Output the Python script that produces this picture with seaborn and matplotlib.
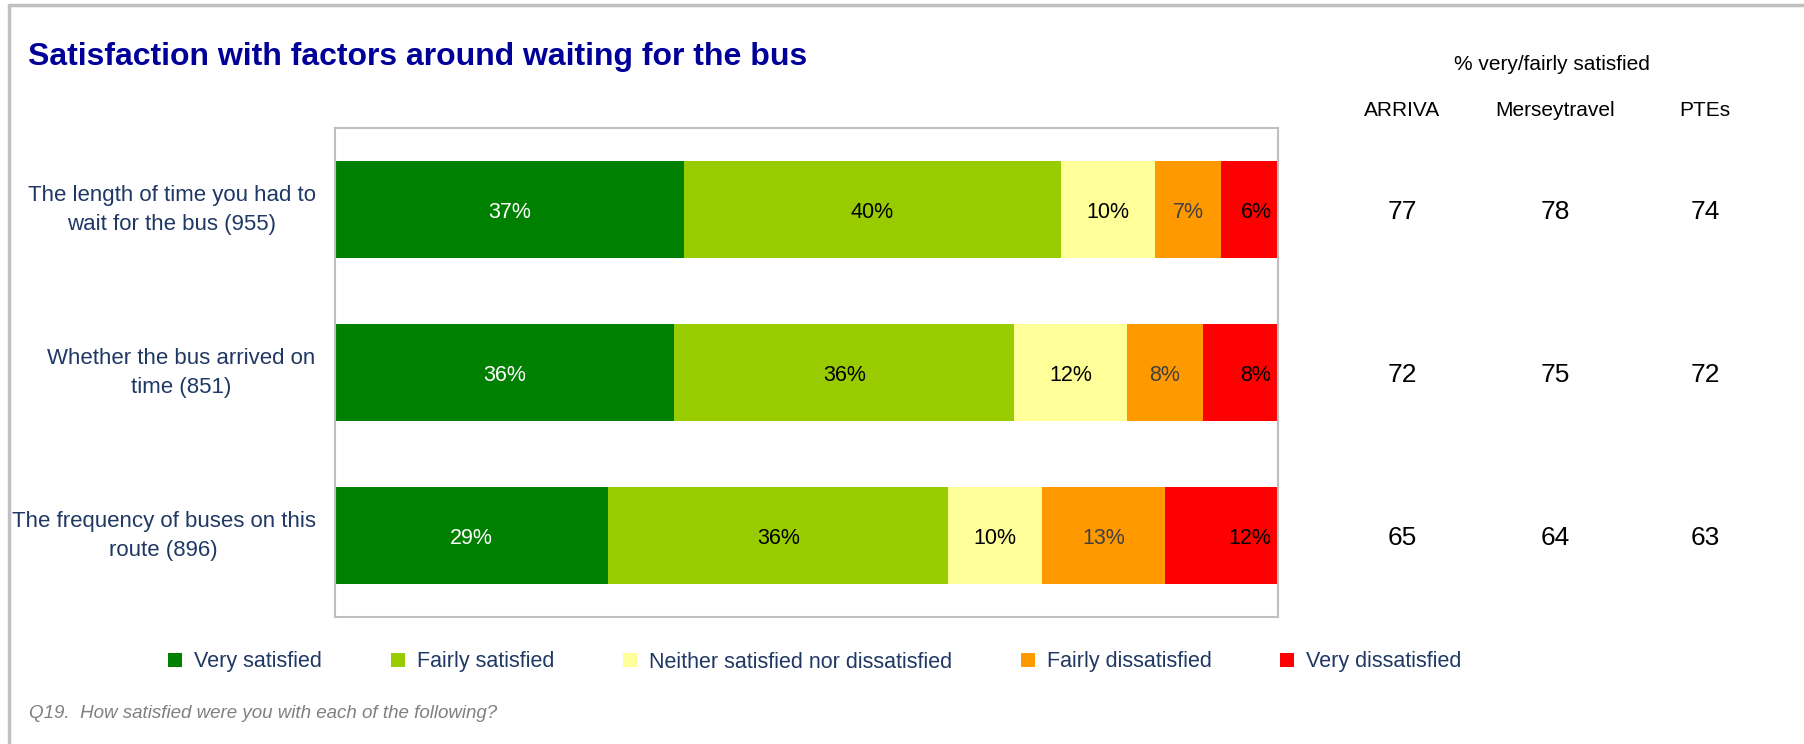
import numpy as np
import pandas as pd
import matplotlib
matplotlib.use('Agg')
import matplotlib.pyplot as plt
import matplotlib.transforms as mtransforms
from matplotlib.patches import Patch
from matplotlib.lines import Line2D
import seaborn as sns

# Data
questions = ['The length of time you had to\nwait for the bus (955)',
             'Whether the bus arrived on\ntime (851)',
             'The frequency of buses on this\nroute (896)']
levels = ['Very satisfied', 'Fairly satisfied', 'Neither satisfied nor dissatisfied',
          'Fairly dissatisfied', 'Very dissatisfied']
very_satisfied = [37, 36, 29]
fairly_satisfied = [40, 36, 36]
neither = [10, 12, 10]
fairly_dissatisfied = [7, 8, 13]
very_dissatisfied = [6, 8, 12]

operators = ['ARRIVA', 'Merseytravel', 'PTEs']
arriva = [77, 72, 65]
merseytravel = [78, 75, 64]
ptes = [74, 72, 63]

colors = ['#008000', '#99CC00', '#FFFF99', '#FF9900', '#FF0000']
label_colors = ['white', 'black', 'black', '#404040', 'black']
text_blue = '#1F3864'

df = pd.DataFrame({'question': questions,
                   levels[0]: very_satisfied,
                   levels[1]: fairly_satisfied,
                   levels[2]: neither,
                   levels[3]: fairly_dissatisfied,
                   levels[4]: very_dissatisfied})
cum = df[levels].cumsum(axis=1)
cum['question'] = df['question']

sns.set_theme(style='white')
plt.rcParams['font.family'] = ['Liberation Sans', 'DejaVu Sans']

W, H = 1804, 744
fig = plt.figure(figsize=(W / 100, H / 100), dpi=100)
ax = fig.add_axes([335 / W, 1 - 617 / H, (1278 - 335) / W, (617 - 128) / H])

# stacked bars: draw cumulative totals from the back forward
for i in reversed(range(len(levels))):
    sns.barplot(data=cum, x=levels[i], y='question', orient='h', color=colors[i],
                saturation=1, width=0.6, linewidth=0, ax=ax, order=questions)

# segment labels
for j in range(len(questions)):
    for i, lev in enumerate(levels):
        val = df.loc[j, lev]
        end = cum.loc[j, lev]
        if i == len(levels) - 1:
            ax.text(end - 0.7, j, f'{val}%', ha='right', va='center_baseline',
                    fontsize=15.5, color=label_colors[i])
        else:
            ax.text(end - val / 2, j, f'{val}%', ha='center', va='center_baseline',
                    fontsize=15.5, color=label_colors[i])

ax.set_xlim(0, 100)
ax.set_ylim(2.5, -0.5)
ax.set_xlabel('')
ax.set_ylabel('')
ax.set_xticks([])
ax.set_yticks(range(len(questions)))
ax.set_yticklabels(questions, fontsize=16, color=text_blue, multialignment='center',
                   linespacing=1.5, va='center')
ax.tick_params(axis='y', length=0, pad=14)
for s in ax.spines.values():
    s.set_visible(True)
    s.set_color('#BFBFBF')
    s.set_linewidth(1.5)

# right-hand table of % very/fairly satisfied
trans = mtransforms.blended_transform_factory(fig.transFigure, ax.transData)
col_x = [1402 / W, 1555 / W, 1705 / W]
for name, vals, x in zip(operators, [arriva, merseytravel, ptes], col_x):
    fig.text(x, 1 - 109 / H, name, ha='center', va='center_baseline', fontsize=15,
             color='black')
    for j, v in enumerate(vals):
        ax.text(x, j, str(v), transform=trans, ha='center', va='center_baseline',
                fontsize=19, color='black', clip_on=False)
fig.text(1552 / W, 1 - 63 / H, '% very/fairly satisfied', ha='center',
         va='center_baseline', fontsize=15, color='black')

# title and footnote
fig.text(28 / W, 1 - 53 / H, 'Satisfaction with factors around waiting for the bus',
         ha='left', va='center_baseline', fontsize=23, fontweight='bold', color='#000099')
fig.text(29 / W, 1 - 712 / H, 'Q19.  How satisfied were you with each of the following?',
         ha='left', va='center_baseline', fontsize=13.5, style='italic', color='#808080')

# legend
handles = [Patch(facecolor=c, edgecolor='none', label=l) for c, l in zip(colors, levels)]
leg = fig.legend(handles=handles, loc='center', bbox_to_anchor=(815 / W, 1 - 662 / H),
                 ncol=5, frameon=False, fontsize=15.5, handlelength=0.65, handleheight=0.65,
                 handletextpad=0.55, columnspacing=3.2)
for t in leg.get_texts():
    t.set_color(text_blue)

# outer frame (top and left edges)
fig.add_artist(Line2D([9 / W, 1], [1 - 5 / H, 1 - 5 / H], transform=fig.transFigure,
                      color='#C0C0C0', linewidth=2.5))
fig.add_artist(Line2D([9 / W, 9 / W], [0, 1 - 5 / H], transform=fig.transFigure,
                      color='#C0C0C0', linewidth=2.5))

fig.savefig('out.png', dpi=100)
